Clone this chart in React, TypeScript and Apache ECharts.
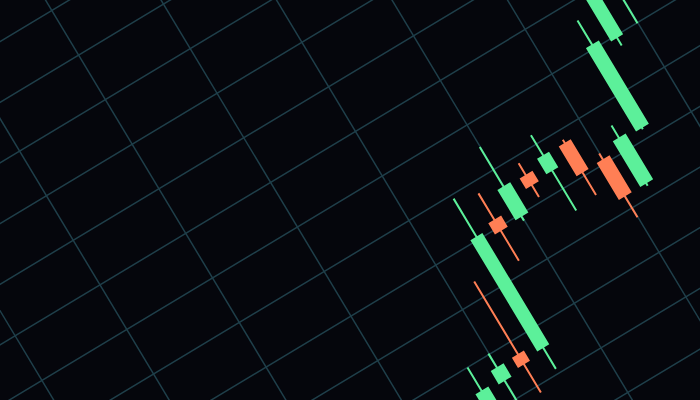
import { useEffect, useRef } from "react";
import * as echarts from "echarts";

// Category slots (only a stretch of them carries candles; the rest keep the grid going)
const categories = [
  "01", "02", "03", "04", "05", "06", "07", "08", "09", "10",
  "11", "12", "13", "14", "15", "16", "17", "18", "19", "20",
  "21", "22", "23", "24", "25", "26", "27", "28", "29", "30",
  "31", "32", "33", "34", "35", "36", "37", "38",
];
const firstCandleSlot = 19;

// Candle values
const opens = [43.5, 54.3, 57.0, 55.9, 81.5, 79.7, 85.8, 84.2, 87.2, 80.7, 72.8, 82.4, 99.7, 107.9];
const closes = [54.6, 56.9, 55.1, 80.5, 79.4, 86.1, 83.8, 87.3, 80.9, 72.8, 82.7, 100.7, 113.7, 118.5];
const lows = [41.5, 49.6, 48.6, 51.0, 72.5, 78.6, 81.0, 75.1, 75.7, 67.9, 72.1, 81.9, 97.8, 99.9];
const highs = [60.0, 60.2, 73.5, 89.2, 87.6, 95.1, 88.6, 92.0, 88.1, 82.2, 85.6, 106.3, 116.5, 121.4];

// Price axis range / gridline step
const priceMin = 20;
const priceMax = 180;
const priceStep = 10;

const UP = "#5cf09a";
const DOWN = "#ff7f55";
const GRID = "#1f3f4a";
const BG = "#05060c";

export default function App() {
  const ref = useRef<HTMLDivElement>(null);

  useEffect(() => {
    if (!ref.current) return;
    const chart = echarts.init(ref.current, undefined, { renderer: "svg" });

    const data = categories.map((_, i) => {
      const k = i - firstCandleSlot;
      if (k >= 0 && k < opens.length) {
        return [opens[k], closes[k], lows[k], highs[k]];
      }
      return ["-", "-", "-", "-"];
    });

    chart.setOption({
      animation: false,
      backgroundColor: "transparent",
      grid: { left: 23.8, right: 18.6, top: 0, bottom: 8 },
      xAxis: {
        type: "category",
        data: categories,
        boundaryGap: false,
        axisLine: { show: false },
        axisTick: { show: false },
        axisLabel: { show: false },
        splitLine: {
          show: true,
          interval: 3,
          lineStyle: { color: GRID, width: 1.5 },
        },
      },
      yAxis: {
        type: "value",
        min: priceMin,
        max: priceMax,
        interval: priceStep,
        axisLine: { show: false },
        axisTick: { show: false },
        axisLabel: { show: false },
        splitLine: {
          show: true,
          lineStyle: { color: GRID, width: 1.5 },
        },
      },
      series: [
        {
          type: "candlestick",
          data,
          barWidth: 13,
          itemStyle: {
            color: UP,
            color0: DOWN,
            borderColor: UP,
            borderColor0: DOWN,
            borderWidth: 2,
          },
        },
      ],
    });

    return () => {
      chart.dispose();
    };
  }, []);

  return (
    <div
      style={{
        position: "fixed",
        left: 0,
        top: 0,
        width: 700,
        height: 400,
        overflow: "hidden",
        background: BG,
      }}
    >
      <div
        ref={ref}
        style={{
          position: "absolute",
          left: -130,
          top: -220,
          width: 960,
          height: 840,
          transform: "rotate(-31deg)",
        }}
      />
    </div>
  );
}
